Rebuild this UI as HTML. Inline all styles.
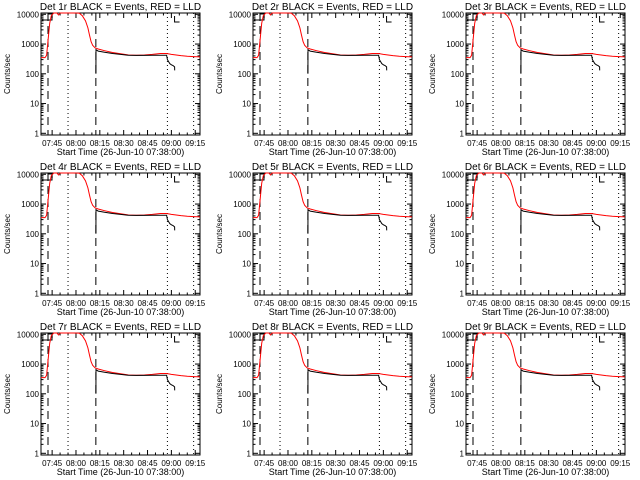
<!DOCTYPE html>
<html><head><meta charset="utf-8">
<style>
html,body{margin:0;padding:0;background:#fff;}
svg{display:block;font-family:"Liberation Sans",sans-serif;}
text{font-size:9px;fill:#000;}
</style></head>
<body>
<svg id="chart" width="640" height="480" viewBox="0 0 640 480"></svg>
<script>
// Data (minutes after 07:38:00, counts/sec)
const detNames = ["1r","2r","3r","4r","5r","6r","7r","8r","9r"];
const redT = [0,2.5,3.5,4.5,5.5,6.5,8,10,11,12,20,24,26,28,29.5,30.5,31.5,32.5,34,36,40,45,50,55,60,65,70,75,79,82,85,88,92,96,100];
const redV = [350,350,420,1500,5000,9000,12000,12000,9500,12000,12000,11000,9000,6000,3500,2000,1200,900,750,680,600,520,470,430,420,430,450,480,480,450,430,410,390,380,370];
const blkT = [34.5,34.6,35,36,40,45,50,55,60,65,70,75,79,79.5,81,82,83,84,84.1];
const blkV = [100,650,620,580,530,480,450,420,415,415,420,420,420,300,220,200,190,170,130];
const xTickMin = [7,22,37,52,67,82,97];
const xTickLabels = ["07:45","08:00","08:15","08:30","08:45","09:00","09:15"];
const yTickVals = [1,10,100,1000,10000];
const yTickLabels = ["1","10","100","1000","10000"];
const dashedT = [4.4,34.5];
const dottedT = [17,79.5,96];

const svg = document.getElementById('chart');
const NS = "http://www.w3.org/2000/svg";
function mk(tag, attrs, parent){
  const e = document.createElementNS(NS, tag);
  for (const k in attrs) e.setAttribute(k, attrs[k]);
  (parent||svg).appendChild(e);
  return e;
}
const lefts = [41,253,466], tops = [13,173,333];
const W = 159, H = 122;

for (let p = 0; p < 9; p++) {
  const L = lefts[p%3], T = tops[Math.floor(p/3)];
  const g = mk('g', {});
  
  
  const xs = t => L + t * (W/100);
  const ys = v => T + 1.3 + (4 - Math.log10(v)) * 29.75;
  const clipY = v => Math.max(T, Math.min(T+H, ys(v)));

  const tt = mk('text', {x: L + W/2, y: T - 3, 'text-anchor':'middle', style:'font-size:10px'}, g);
  tt.textContent = 'Det ' + detNames[p] + ' BLACK = Events, RED = LLD';
  
  

  const box = mk('rect', {x:L, y:T, width:W, height:H, fill:'none', stroke:'#000', 'stroke-width':1}, g);
  
  

  for (let i = 0; i < yTickVals.length; i++) {
    const y = ys(yTickVals[i]);
    mk('line', {x1:L, x2:L+5, y1:y, y2:y, stroke:'#000'}, g);
    mk('line', {x1:L+W-5, x2:L+W, y1:y, y2:y, stroke:'#000'}, g);
    const lb = mk('text', {x:L-2, y:y+3, 'text-anchor':'end', style:'font-size:8px'}, g);
    lb.textContent = yTickLabels[i];
    
    
    if (i < yTickVals.length-1) for (let m = 2; m < 10; m++) {
      const ym = ys(yTickVals[i]*m);
      mk('line', {x1:L, x2:L+2.5, y1:ym, y2:ym, stroke:'#000'}, g);
      mk('line', {x1:L+W-2.5, x2:L+W, y1:ym, y2:ym, stroke:'#000'}, g);
    }
  }
  const yl = mk('text', {x:0, y:0, 'text-anchor':'middle', transform:'translate('+(L-31)+','+(T+H/2)+') rotate(-90)', style:'font-size:8px'}, g);
  yl.textContent = 'Counts/sec';
  
  

  for (let i = 0; i < xTickMin.length; i++) {
    const x = xs(xTickMin[i]);
    mk('line', {x1:x, x2:x, y1:T+H, y2:T+H-5, stroke:'#000'}, g);
    mk('line', {x1:x, x2:x, y1:T, y2:T+5, stroke:'#000'}, g);
    const lb = mk('text', {x:x, y:T+H+11, 'text-anchor':'middle', style:'font-size:8px'}, g);
    lb.textContent = xTickLabels[i];
    
    
    for (let m = 1; m < 3; m++) {
      const xm = xs(xTickMin[i] + m*5);
      if (xm < L+W) {
        mk('line', {x1:xm, x2:xm, y1:T+H, y2:T+H-2.5, stroke:'#000'}, g);
        mk('line', {x1:xm, x2:xm, y1:T, y2:T+2.5, stroke:'#000'}, g);
      }
    }
  }
  const xl = mk('text', {x:L+W/2, y:T+H+20, 'text-anchor':'middle', style:'font-size:9px'}, g);
  xl.textContent = 'Start Time (26-Jun-10 07:38:00)';
  
  

  dashedT.forEach(t => {
    const l = mk('line', {x1:xs(t), x2:xs(t), y1:T, y2:T+H, stroke:'#000', 'stroke-dasharray':'8,5'}, g);
    
    
  });
  dottedT.forEach(t => {
    const l = mk('line', {x1:xs(t), x2:xs(t), y1:T, y2:T+H, stroke:'#000', 'stroke-dasharray':'1,3'}, g);
    
    
  });
  mk('path', {d:'M'+(L+1)+' '+(T+7)+' H'+(L+11)+' V'+(T+1)+' M'+(L+7)+' '+(T+1)+' H'+(L+12), fill:'none', stroke:'#000'}, g);
  mk('path', {d:'M'+(xs(84)+5)+' '+(T+9)+' H'+xs(84)+' V'+(T+3), fill:'none', stroke:'#000'}, g);

  const rp = redT.map((t,i) => (i?'L':'M') + xs(t).toFixed(1) + ' ' + clipY(redV[i]).toFixed(1)).join(' ');
  const red = mk('path', {d:rp, fill:'none', stroke:'#ff0000', 'stroke-width':1}, g);
  
  
  const bp = blkT.map((t,i) => (i?'L':'M') + xs(t).toFixed(1) + ' ' + clipY(blkV[i]).toFixed(1)).join(' ');
  const blk = mk('path', {d:bp, fill:'none', stroke:'#000', 'stroke-width':1}, g);
  
  
}
</script>
</body></html>
